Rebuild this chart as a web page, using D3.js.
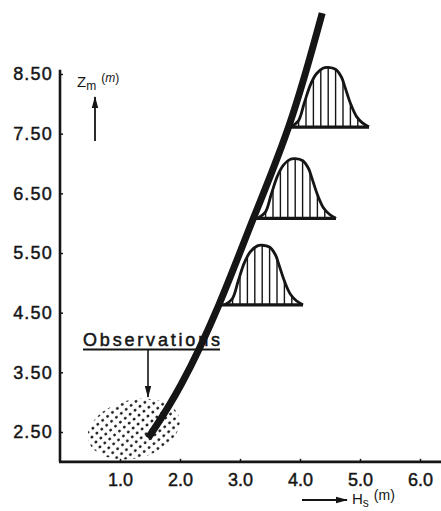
<!DOCTYPE html>
<html>
<head>
<meta charset="utf-8">
<script src="https://cdn.jsdelivr.net/npm/d3@7"></script>
<style>
  body { margin: 0; background: #fff; }
  svg { display: block; font-family: "Liberation Sans", Arial, Helvetica, sans-serif; }
</style>
</head>
<body>
<script>
// axis ticks
const hsTicks = [1.0, 2.0, 3.0, 4.0, 5.0, 6.0];
const zTicks = [2.5, 3.5, 4.5, 5.5, 6.5, 7.5, 8.5];

// thick trend line (Hs, Zm)
const trendHs = [1.47, 2.0, 2.67, 3.22, 3.85, 4.37];
const trendZ = [2.4, 3.2, 4.63, 6.1, 7.61, 9.52];

// the three distributions: base level, peak position, start at the trend line
const bellZ = [4.63, 6.08, 7.61];
const bellPeakHs = [3.37, 3.92, 4.47];
const bellStartHs = [2.67, 3.22, 3.85];

// shape of one distribution relative to its peak
const profileDHs = [-0.63, -0.5, -0.4, -0.3, -0.2, -0.08, 0, 0.12, 0.22, 0.28, 0.37, 0.47, 0.57, 0.68];
const profileDZ = [0, 0.1, 0.4, 0.7, 0.89, 0.99, 1.0, 0.97, 0.84, 0.67, 0.4, 0.18, 0.07, 0];

// observation cloud (centre, half sizes, tilt in degrees)
const obsCentre = [1.23, 2.55];
const obsHalf = [0.78, 0.49];
const obsTilt = -14;

const width = 441, height = 511;
const ink = "#151515";

const x = d3.scaleLinear().domain([0, 6]).range([60, 420]);
const y = d3.scaleLinear().domain([2.5, 8.5]).range([432, 74]);

const svg = d3.select("body").append("svg")
  .attr("width", width)
  .attr("height", height);

const defs = svg.append("defs");

// stipple for the observations
const pat = defs.append("pattern")
  .attr("id", "stipple")
  .attr("patternUnits", "userSpaceOnUse")
  .attr("width", 6.3)
  .attr("height", 6.3)
  .attr("patternTransform", "rotate(-25)");
pat.append("circle")
  .attr("cx", 3.15).attr("cy", 3.15).attr("r", 1.45)
  .attr("fill", ink);

defs.append("marker")
  .attr("id", "head")
  .attr("markerUnits", "userSpaceOnUse")
  .attr("markerWidth", 12).attr("markerHeight", 8)
  .attr("refX", 11).attr("refY", 4)
  .attr("orient", "auto")
  .append("path")
  .attr("d", "M0,0.8 L12,4 L0,7.2 Z")
  .attr("fill", ink);

// axes
const yAxis = d3.axisLeft(y)
  .tickValues(zTicks)
  .tickFormat(d3.format(".2f"))
  .tickSize(-3)
  .tickPadding(7);

const gy = svg.append("g").attr("transform", `translate(${x(0)},0)`).call(yAxis);
gy.select(".domain").remove();
gy.selectAll(".tick line").attr("stroke", ink).attr("stroke-width", 1.5);
gy.selectAll(".tick text")
  .attr("fill", ink)
  .attr("stroke", ink)
  .attr("stroke-width", 0.45)
  .attr("font-size", 18)
  .attr("letter-spacing", 1.2)
  .attr("font-family", "Liberation Sans, Arial, sans-serif");

const xAxis = d3.axisBottom(x)
  .tickValues(hsTicks)
  .tickFormat(d3.format(".1f"))
  .tickSize(-3)
  .tickPadding(11);

const gx = svg.append("g").attr("transform", `translate(0,${y(2.0)})`).call(xAxis);
gx.select(".domain").remove();
gx.selectAll(".tick line").attr("stroke", ink).attr("stroke-width", 1.5);
gx.selectAll(".tick text")
  .attr("fill", ink)
  .attr("stroke", ink)
  .attr("stroke-width", 0.45)
  .attr("font-size", 18)
  .attr("font-family", "Liberation Sans, Arial, sans-serif");

// axis lines
svg.append("line")
  .attr("x1", x(0)).attr("x2", x(0))
  .attr("y1", y(2.0)).attr("y2", y(8.57))
  .attr("stroke", ink).attr("stroke-width", 2.6);
svg.append("line")
  .attr("x1", x(0) - 1).attr("x2", x(6.35))
  .attr("y1", y(2.0)).attr("y2", y(2.0))
  .attr("stroke", ink).attr("stroke-width", 2.6);

// observation cloud
const ocx = x(obsCentre[0]), ocy = y(obsCentre[1]);
svg.append("ellipse")
  .attr("cx", ocx).attr("cy", ocy)
  .attr("rx", x(obsCentre[0] + obsHalf[0]) - ocx)
  .attr("ry", ocy - y(obsCentre[1] + obsHalf[1]))
  .attr("transform", `rotate(${obsTilt},${ocx},${ocy})`)
  .attr("fill", "url(#stipple)");

// distributions
const bellLine = d3.line()
  .x(d => x(d[0]))
  .y(d => y(d[1]))
  .curve(d3.curveCatmullRom);

bellZ.forEach((z, i) => {
  const pts = profileDHs.map((dh, j) => [bellPeakHs[i] + dh, z + profileDZ[j]]);
  const id = "bell" + i;
  defs.append("clipPath").attr("id", id)
    .append("path").attr("d", bellLine(pts) + "Z");

  const hatch = svg.append("g").attr("clip-path", `url(#${id})`);
  const px = x(bellPeakHs[i]);
  d3.range(-6, 7).forEach(k => {
    hatch.append("line")
      .attr("x1", px + k * 7.4).attr("x2", px + k * 7.4)
      .attr("y1", y(z)).attr("y2", y(z + 1.2))
      .attr("stroke", ink).attr("stroke-width", 1.4);
  });

  svg.append("path")
    .attr("d", bellLine(pts))
    .attr("fill", "none")
    .attr("stroke", ink)
    .attr("stroke-width", 2.8);

  svg.append("line")
    .attr("x1", x(bellStartHs[i])).attr("x2", x(bellPeakHs[i] + profileDHs[profileDHs.length - 1]))
    .attr("y1", y(z)).attr("y2", y(z))
    .attr("stroke", ink).attr("stroke-width", 3.4);
});

// trend line
const trend = d3.line()
  .x(d => x(d[0]))
  .y(d => y(d[1]))
  .curve(d3.curveBasis);

svg.append("path")
  .attr("d", trend(trendHs.map((h, i) => [h, trendZ[i]])))
  .attr("fill", "none")
  .attr("stroke", ink)
  .attr("stroke-width", 7);

// Observations label
svg.append("text")
  .attr("x", 83).attr("y", 346)
  .attr("font-size", 18)
  .attr("textLength", 137)
  .attr("lengthAdjust", "spacing")
  .attr("fill", ink)
  .attr("stroke", ink)
  .attr("stroke-width", 0.5)
  .text("Observations");
svg.append("line")
  .attr("x1", 83).attr("x2", 220)
  .attr("y1", 349.5).attr("y2", 349.5)
  .attr("stroke", ink).attr("stroke-width", 2);
svg.append("line")
  .attr("x1", 148).attr("x2", 148)
  .attr("y1", 349).attr("y2", 397)
  .attr("stroke", ink).attr("stroke-width", 1.6)
  .attr("marker-end", "url(#head)");

// Zm label
const zl = svg.append("text").attr("x", 77).attr("y", 87).attr("fill", ink).attr("font-size", 15);
zl.append("tspan").text("Z");
zl.append("tspan").attr("font-size", 12).attr("dy", 3).text("m");
zl.append("tspan").attr("font-size", 12).attr("dx", 5).attr("dy", -8).text("(");
zl.append("tspan").attr("font-size", 12).attr("font-style", "italic").text("m");
zl.append("tspan").attr("font-size", 12).text(")");

svg.append("line")
  .attr("x1", 95).attr("x2", 95)
  .attr("y1", 141).attr("y2", 97)
  .attr("stroke", ink).attr("stroke-width", 1.8)
  .attr("marker-end", "url(#head)");

// Hs label
svg.append("line")
  .attr("x1", 302).attr("x2", 347)
  .attr("y1", 500).attr("y2", 500)
  .attr("stroke", ink).attr("stroke-width", 1.8)
  .attr("marker-end", "url(#head)");

const hl = svg.append("text").attr("x", 352).attr("y", 504).attr("fill", ink).attr("font-size", 15);
hl.append("tspan").text("H");
hl.append("tspan").attr("font-size", 12).attr("dy", 3).text("s");
hl.append("tspan").attr("font-size", 14).attr("dx", 5).attr("dy", -7).text("(m)");
</script>
</body>
</html>
